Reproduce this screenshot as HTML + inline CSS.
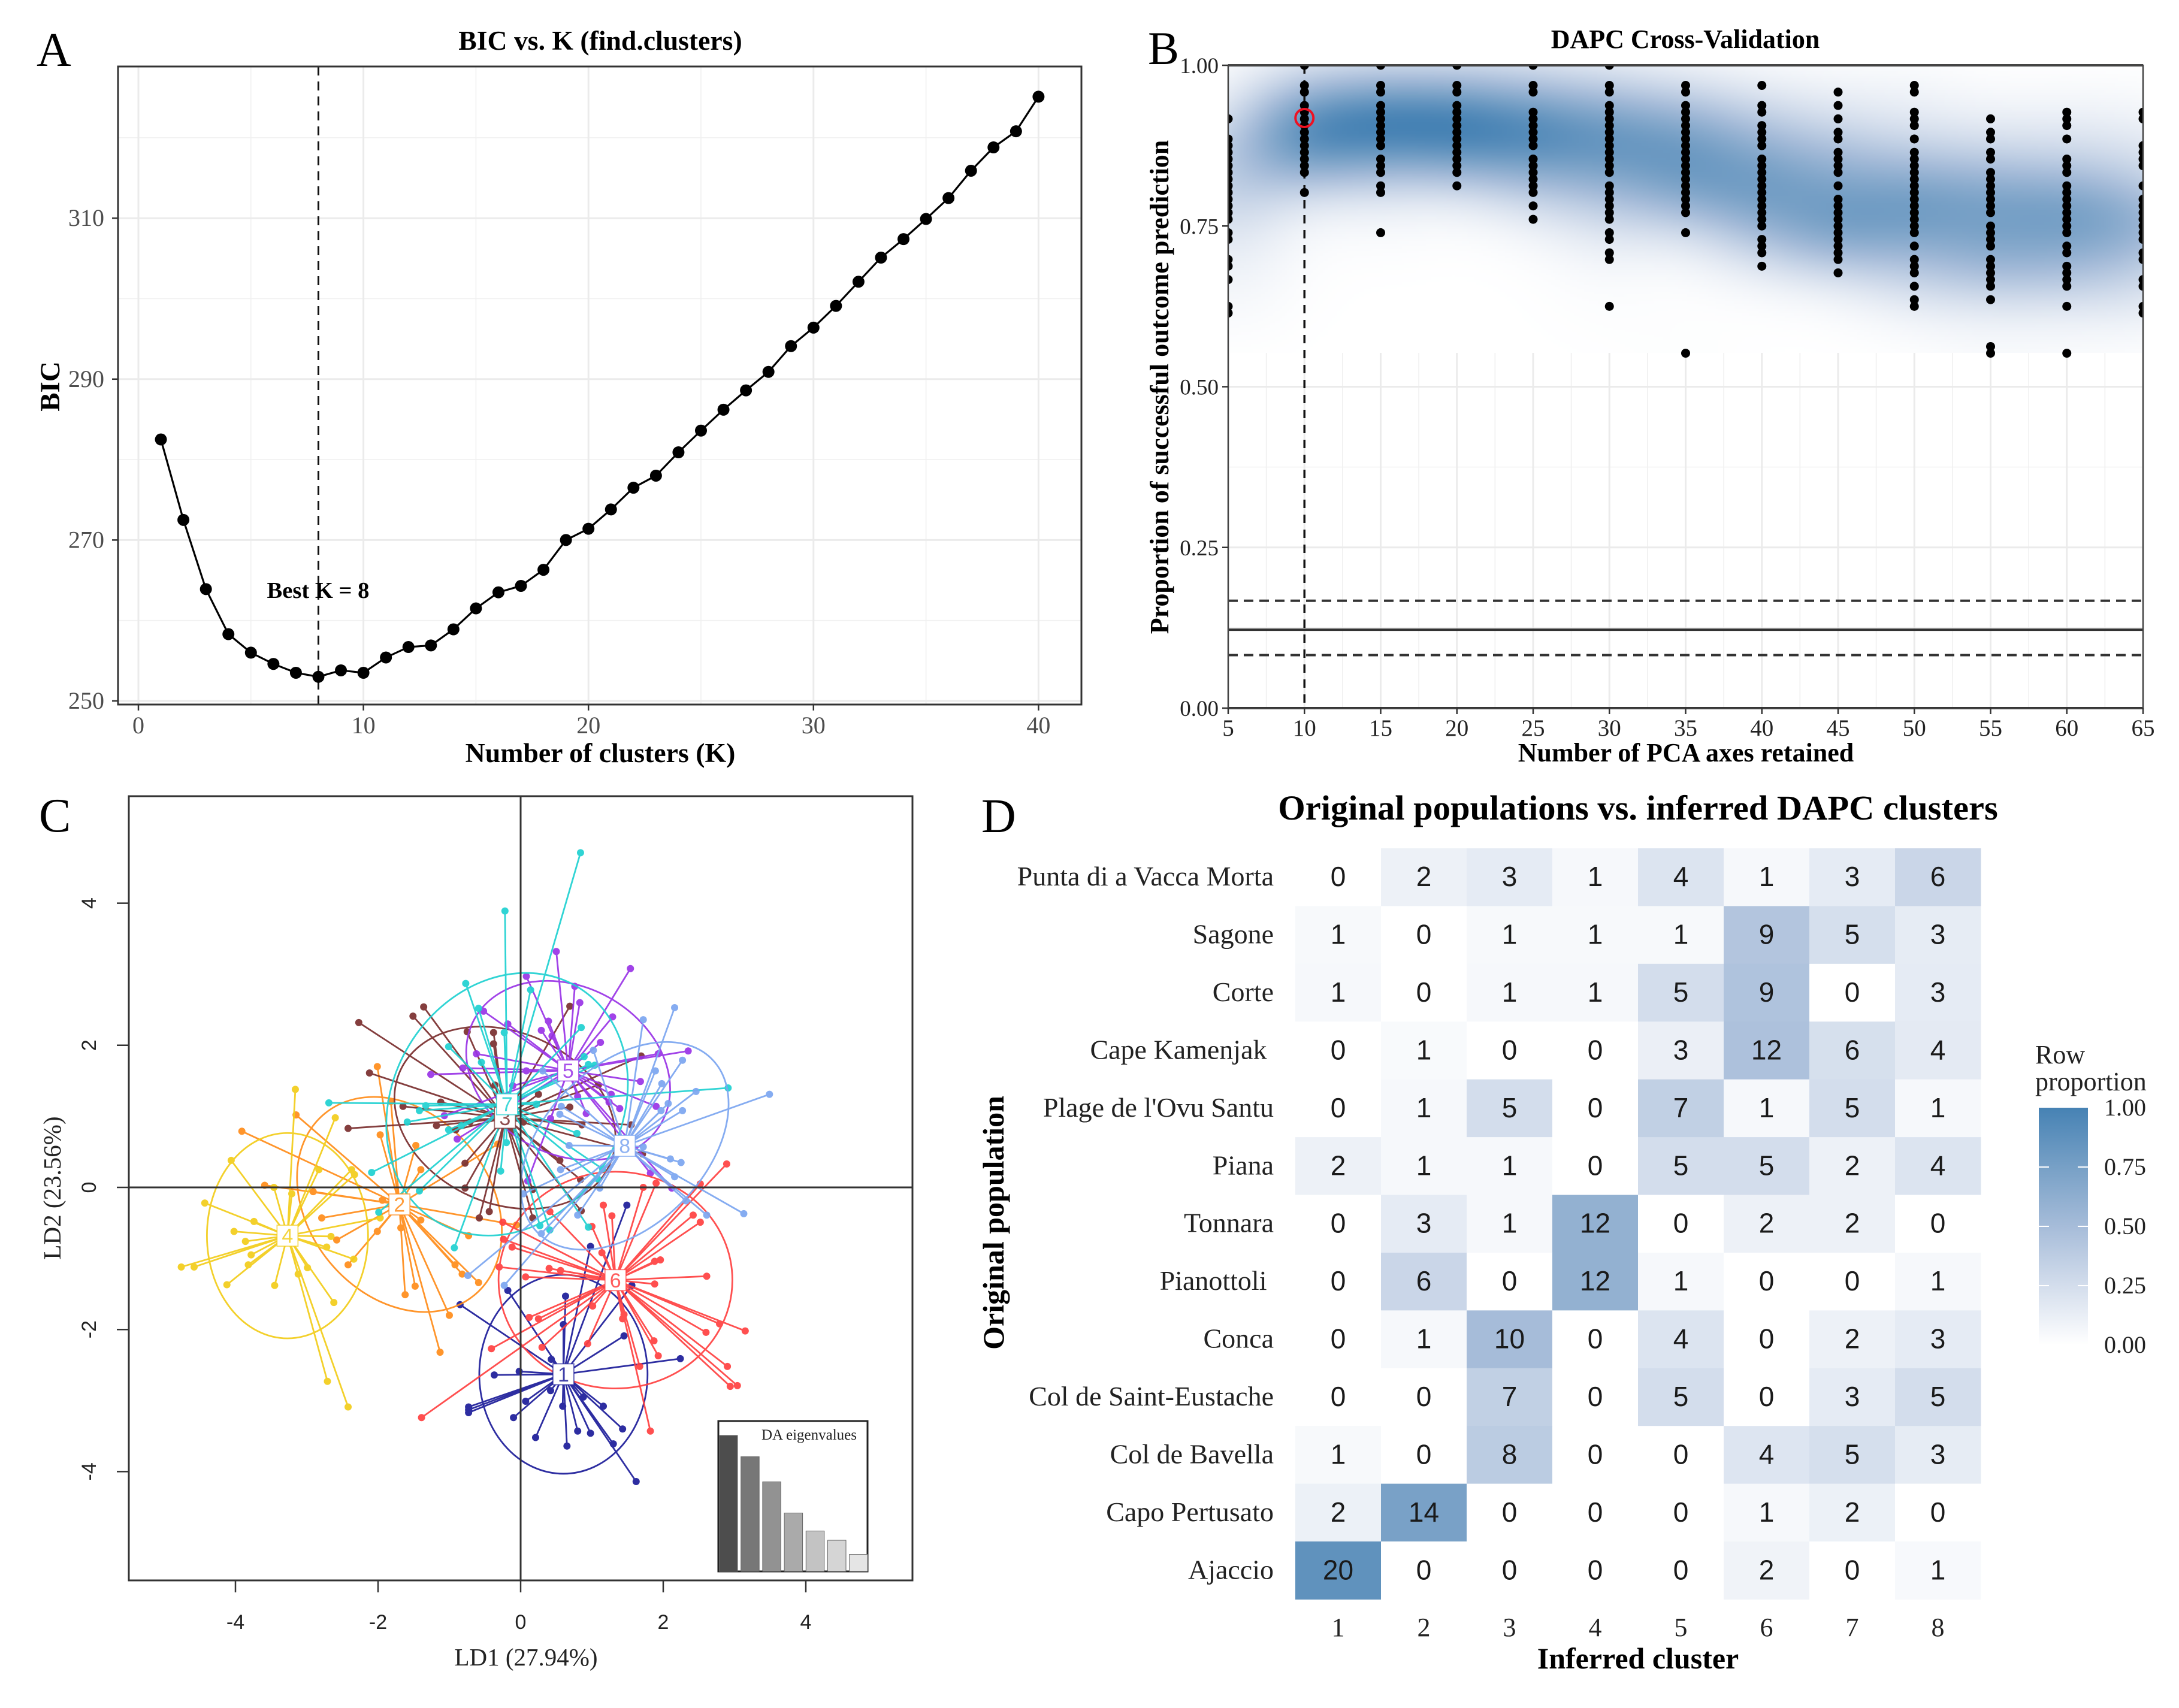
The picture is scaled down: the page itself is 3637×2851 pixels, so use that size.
<!DOCTYPE html>
<html>
<head>
<meta charset="utf-8">
<title>DAPC multi-panel figure</title>
<style>
html,body{margin:0;padding:0;background:#fff}
#stage{position:relative;width:3637px;height:2851px;overflow:hidden;background:#fff}
#stage svg{position:absolute;left:0;top:0}
#stage #density-raster{position:absolute;left:2050px;top:109px;width:1527px;height:480px}
text{font-family:"Liberation Serif",serif;white-space:pre}
.sans{font-family:"Liberation Sans",sans-serif}
.b{font-weight:bold}
</style>
</head>
<body>
<div id="stage">
<svg id="under" width="3637" height="2851"></svg>
<canvas id="density-raster" width="382" height="120"></canvas>
<svg id="main" width="3637" height="2851">
  <defs>
    <clipPath id="cvClip"><rect x="2050" y="109" width="1527" height="1073"></rect></clipPath>
    <linearGradient id="legendGrad" x1="0" y1="1" x2="0" y2="0">
      <stop offset="0" stop-color="#ffffff"></stop>
      <stop offset="0.25" stop-color="#d3ddec"></stop>
      <stop offset="0.5" stop-color="#a6bcd9"></stop>
      <stop offset="0.75" stop-color="#77a0c6"></stop>
      <stop offset="1" stop-color="#4682b4"></stop>
    </linearGradient>
  </defs>

  <text x="61" y="110" font-size="80">A</text>
  <text x="1916" y="107" font-size="78">B</text>
  <text x="65" y="1388" font-size="80">C</text>
  <text x="1638" y="1389" font-size="80">D</text>

  <g id="panelA">
    <g id="aGrid"></g>
    <g id="aMarks"></g>
    <rect x="197" y="111" width="1608" height="1065" fill="none" stroke="#333" stroke-width="3"></rect>
    <g id="aAxes"></g>
    <text x="1002" y="83" font-size="45.7" class="b" text-anchor="middle">BIC vs. K (find.clusters)</text>
    <text x="1002" y="1272" font-size="45.8" class="b" text-anchor="middle">Number of clusters (K)</text>
    <text transform="translate(99,645) rotate(-90)" font-size="47" class="b" text-anchor="middle">BIC</text>
    <text x="531" y="998" font-size="38.6" class="b" text-anchor="middle">Best K = 8</text>
  </g>

  <g id="panelB">
    <g id="bLines"></g>
    <g id="bDots" clip-path="url(#cvClip)"></g>
    <rect x="2050" y="109" width="1527" height="1073" fill="none" stroke="#444" stroke-width="2.5"></rect>
    <g id="bAxes"></g>
    <text x="2813" y="80" font-size="44" class="b" text-anchor="middle">DAPC Cross-Validation</text>
    <text x="2814" y="1271" font-size="44" class="b" text-anchor="middle">Number of PCA axes retained</text>
    <text transform="translate(1950,646) rotate(-90)" font-size="44" class="b" text-anchor="middle">Proportion of successful outcome prediction</text>
  </g>

  <g id="panelC">
    <g id="cMarks"></g>
    <rect x="215" y="1329" width="1308" height="1309" fill="none" stroke="#333" stroke-width="3"></rect>
    <g id="cAxes"></g>
    <g id="cInset"></g>
    <text x="878" y="2780" font-size="41" fill="#222" text-anchor="middle">LD1 (27.94%)</text>
    <text transform="translate(101,1983) rotate(-90)" font-size="41" fill="#222" text-anchor="middle">LD2 (23.56%)</text>
  </g>

  <g id="panelD">
    <g id="dCells"></g>
    <text x="2734" y="1368" font-size="58.5" class="b" text-anchor="middle">Original populations vs. inferred DAPC clusters</text>
    <text x="2734" y="2785" font-size="50" class="b" text-anchor="middle">Inferred cluster</text>
    <text transform="translate(1675,2041) rotate(-90)" font-size="50" class="b" text-anchor="middle">Original population</text>
    <g>
      <text x="3397" y="1775" font-size="44" fill="#222">Row</text>
      <text x="3397" y="1820" font-size="44" fill="#222">proportion</text>
      <rect x="3403" y="1849" width="82" height="396" fill="url(#legendGrad)"></rect>
      <g id="dLegend"></g>
    </g>
  </g>
</svg>
</div>
<script>
/* ---------- Panel A data ---------- */
const bicValues = [282.5,272.5,263.9,258.3,256,254.6,253.5,253,253.8,253.5,255.4,256.7,256.9,258.9,261.5,263.5,264.3,266.3,270,271.4,273.8,276.5,278,280.9,283.6,286.2,288.6,290.9,294.1,296.4,299.1,302.1,305.1,307.4,309.9,312.5,315.9,318.8,320.8,325.1];
const bicBestK = 8;
const bicXMajor = [0,10,20,30,40];
const bicXMinor = [5,15,25,35];
const bicYMajor = [250,270,290,310];
const bicYMinor = [260,280,300,320];

/* ---------- Panel B data: misclassified count out of cvDenominator, per replicate ---------- */
const cvDenominator = 96;
const cvAxes = [5,10,15,20,25,30,35,40,45,50,55,60,65];
const cvMissed05 = [8,11,12,13,14,15,16,17,18,19,20,21,22,23,25,26,29,30,32,36,37];
const cvMissed10 = [0,3,4,6,7,8,9,10,11,12,13,14,15,16,19];
const cvMissed15 = [0,3,4,6,7,8,9,10,11,12,14,15,16,18,19,25];
const cvMissed20 = [0,3,4,6,7,8,9,10,11,12,13,14,15,16,18];
const cvMissed25 = [0,3,4,7,8,9,10,11,12,14,15,16,17,18,19,21,23];
const cvMissed30 = [0,3,4,6,7,8,9,10,11,12,13,14,15,16,18,19,20,21,22,23,25,26,28,29,36];
const cvMissed35 = [3,4,6,7,8,9,10,11,12,13,14,15,16,17,18,19,20,21,22,25,43];
const cvMissed40 = [3,6,7,9,10,11,12,14,15,16,17,18,19,20,21,22,23,24,26,27,28,30];
const cvMissed45 = [4,6,8,10,11,13,14,15,16,18,20,21,22,23,24,25,26,27,28,29,31];
const cvMissed50 = [3,4,7,8,9,11,13,14,15,16,17,18,19,20,21,22,23,24,25,27,29,30,31,33,35,36];
const cvMissed55 = [8,10,11,13,14,16,17,18,19,20,21,22,24,25,26,27,29,30,31,32,33,35,42,43];
const cvMissed60 = [7,8,9,11,14,15,16,18,19,20,21,22,23,24,25,27,28,30,31,32,33,36,43];
const cvMissed65 = [7,8,12,13,14,15,18,20,21,22,23,24,25,26,28,29,32,33,36,37];
const cvColumns = [cvMissed05,cvMissed10,cvMissed15,cvMissed20,cvMissed25,cvMissed30,cvMissed35,cvMissed40,cvMissed45,cvMissed50,cvMissed55,cvMissed60,cvMissed65];
/* Overlapping replicates are hidden in the dots, so the density ridge is read per column from the raster */
const cvRidgeCentre = [.82,.90,.915,.915,.905,.88,.85,.815,.785,.76,.75,.75,.745];
const cvRidgeSpread = [.12,.055,.05,.05,.055,.065,.07,.075,.07,.065,.07,.07,.075];
const cvColumnMass = [.55,1,1,1,1,1,1,1,1,1,1,1,.8];
const cvBestPca = 10;
const cvBestValue = 0.918;
const cvRandomMean = 0.122;
const cvRandomUpper = 0.167;
const cvRandomLower = 0.0825;
const cvXTicks = [5,10,15,20,25,30,35,40,45,50,55,60,65];
const cvXMinor = [7.5,12.5,17.5,22.5,27.5,32.5,37.5,42.5,47.5,52.5,57.5,62.5];
const cvYTicks = ["0.00","0.25","0.50","0.75","1.00"];
const cvYMinor = [0.125,0.375,0.625,0.875];
const cvDensityFloor = 0.5527;

/* ---------- Panel C data (LD1, LD2) ---------- */
const ldCluster1 = [[1.49,-.25],[.98,-.83],[-.18,-1.45],[-.85,-1.65],[.63,-1.53],[.6,-1.93],[1.56,-1.38],[1.45,-2.09],[2.24,-2.41],[-.02,-2.59],[-.37,-2.64],[.43,-2.42],[.42,-2.86],[.07,-3.01],[-.73,-3.09],[-.73,-3.13],[-.73,-3.17],[-.1,-3.24],[.59,-3.08],[.88,-2.95],[1.16,-3.08],[1.43,-3.4],[1.3,-3.61],[.98,-3.46],[.8,-3.43],[.21,-3.52],[.65,-3.64],[1.62,-4.14]];
const ldCluster2 = [[-2.01,1.7],[-1.97,.74],[-1.47,.59],[-1.4,.25],[-3.91,.79],[-3.15,1.02],[-1.82,1.21],[-3.59,.03],[-2.91,-.06],[-2.79,-.43],[-2.58,-.74],[-2.42,-1.09],[-2.01,-.62],[-1.68,-.57],[-1.4,-.46],[-.73,-.68],[-.06,-.53],[-.32,.61],[-1.94,-.18],[-1.62,-1.51],[-1.48,-1.39],[-1.13,-2.32],[-1,-1.8],[-.59,-1.34],[-.82,-1.22],[-.92,-1.09]];
const ldCluster3 = [[-2.27,2.32],[-1.51,2.41],[-1.36,2.54],[-.75,2.19],[-.38,2.18],[-.38,2.02],[-2.12,1.61],[-1.65,1.14],[-1.12,1.2],[-2.42,.83],[-1.18,.87],[-.91,.81],[-.78,.34],[-.78,-.01],[-.58,-.43],[-.44,-.34],[-.36,1.44],[-.71,.92],[.69,2.55],[.25,1.31],[.69,1.13],[.86,.88],[1.55,.88],[1.69,1.85],[1.09,1.44],[.55,.38],[.84,.11],[.17,-.03],[.17,-.43],[.85,-.33],[1.71,.47],[-.12,.8],[.04,.92]];
const ldCluster4 = [[-3.16,1.38],[-2.6,.98],[-4.06,.38],[-2.83,.25],[-2.37,.25],[-2.33,.18],[-3.46,0],[-3.21,-.09],[-4.43,-.22],[-3.74,-.48],[-4.02,-.62],[-3.86,-.76],[-1.97,-.43],[-2.66,-.69],[-2.72,-.84],[-2.34,-1.01],[-3.78,-.95],[-3.82,-1.09],[-4.76,-1.12],[-4.58,-1.12],[-4.12,-1.37],[-3.45,-1.38],[-2.99,-1.13],[-3.12,-1.22],[-2.62,-1.62],[-2.71,-2.73],[-2.42,-3.09]];
const ldCluster5 = [[.5,3.32],[.08,2.97],[.76,2.83],[.83,2.6],[1.54,3.08],[1.29,2.4],[1.12,2.04],[.39,2.34],[.29,2.21],[.44,2.13],[-.18,2.3],[-.52,2.48],[2.35,1.92],[1.93,1.88],[1.68,1.49],[1.27,1.31],[1.24,1.2],[1.39,1.11],[1.9,1.14],[.8,1.28],[.92,1.04],[.42,.97],[.08,1.64],[-.11,1.43],[1.82,.2],[2.12,-.01],[.1,.09],[-1.26,1.59],[-.81,1.68],[-.62,1.88],[-1.07,1.01],[-.89,.68]];
const ldCluster6 = [[2.89,.33],[2.52,.05],[1.9,.06],[1.72,0],[1.16,-.25],[1.28,-.4],[2.42,-.39],[2.52,-.49],[1,-.55],[.41,-.34],[-.24,-.73],[-.12,-.84],[-.25,-.49],[-.3,-1.12],[.07,-1.26],[.4,-1.14],[.56,-1.17],[1.96,-1.02],[1.88,-1.04],[2.61,-1.25],[1.88,-1.36],[1.01,-1.67],[.12,-1.83],[.25,-1.85],[-.41,-2.27],[.3,-2.25],[1.45,-1.79],[1.43,-1.85],[1.87,-2.16],[1.93,-2.37],[.94,-2.2],[1.67,-2.52],[1.82,-3.43],[2.6,-2.04],[2.79,-1.92],[3.15,-2.02],[2.9,-2.52],[2.94,-2.8],[3.04,-2.79],[-1.39,-3.24],[1.14,-.92]];
const ldCluster7 = [[.84,4.71],[-.22,3.89],[-.77,2.87],[-.59,2.52],[.14,2.78],[-1.01,1.98],[-.23,2.18],[-.55,1.76],[-2.69,1.19],[-1.33,1.15],[-1.42,1.08],[-1.59,.92],[-1.01,.81],[-.83,.87],[-2.09,.21],[-.2,.63],[-.28,.23],[-1.42,-.05],[-1.99,-.35],[-.93,-.85],[.85,2.25],[.89,1.84],[.95,1.73],[1.04,1.72],[2.91,1.4],[.22,1.17],[.79,.76],[1.15,.26],[1.08,.12],[.27,-.54],[.41,-.6],[.95,-.56]];
const ldCluster8 = [[3.49,1.31],[2.16,2.53],[1.72,2.36],[2.27,1.79],[1.02,1.93],[1.89,1.64],[1.98,1.46],[2.46,1.35],[2.07,1.18],[1.97,1.08],[2.27,1.08],[.57,1.14],[.55,1.03],[.68,.59],[.56,.25],[1.72,.57],[2.1,.4],[2.25,.35],[2.16,.15],[2.32,-.19],[2.61,-.39],[3.13,-.37],[1.11,-.01],[.04,-.09],[.8,-.39],[.29,-.65],[-.74,-1.24],[-.23,-1.38],[.31,1.64]];
const ldClusters = [ldCluster1,ldCluster2,ldCluster3,ldCluster4,ldCluster5,ldCluster6,ldCluster7,ldCluster8];
const clusterIds = ["1","2","3","4","5","6","7","8"];
const centroidLD1 = [.6,-1.7,-.22,-3.27,.667,1.33,-.19,1.46];
const centroidLD2 = [-2.63,-.24,.98,-.68,1.645,-1.305,1.17,.585];
const ellipseMajor = [1.18,1.65,1.61,1.13,1.5,1.64,1.92,1.725];
const ellipseMinor = [1.4,1.275,1.206,1.445,1.177,1.525,1.61,1.13];
const ellipseAngle = [0,-50.5,-24,0,-29,0,59,45];
const clusterColors = ["#1c1c99","#ff8c1a","#7a2e2e","#f2cc1a","#9933e6","#ff4040","#1fd1d1","#7ba5f0"];
const ldXTicks = [-4,-2,0,2,4];
const ldYTicks = [-4,-2,0,2,4];
const eigenValues = [27.94,23.56,18.4,12,8.3,6.4,3.5];
const eigenGreys = ["#4d4d4d","#777777","#929292","#aaaaaa","#c3c3c3","#d5d5d5","#e5e5e5"];

/* ---------- Panel D data ---------- */
const populations = ["Punta di a Vacca Morta","Sagone","Corte","Cape Kamenjak ","Plage de l'Ovu Santu","Piana","Tonnara","Pianottoli ","Conca","Col de Saint-Eustache","Col de Bavella","Capo Pertusato","Ajaccio"];
const inferredClusters = ["1","2","3","4","5","6","7","8"];
const countsPunta = [0,2,3,1,4,1,3,6];
const countsSagone = [1,0,1,1,1,9,5,3];
const countsCorte = [1,0,1,1,5,9,0,3];
const countsKamenjak = [0,1,0,0,3,12,6,4];
const countsOvu = [0,1,5,0,7,1,5,1];
const countsPiana = [2,1,1,0,5,5,2,4];
const countsTonnara = [0,3,1,12,0,2,2,0];
const countsPianottoli = [0,6,0,12,1,0,0,1];
const countsConca = [0,1,10,0,4,0,2,3];
const countsEustache = [0,0,7,0,5,0,3,5];
const countsBavella = [1,0,8,0,0,4,5,3];
const countsPertusato = [2,14,0,0,0,1,2,0];
const countsAjaccio = [20,0,0,0,0,2,0,1];
const countMatrix = [countsPunta,countsSagone,countsCorte,countsKamenjak,countsOvu,countsPiana,countsTonnara,countsPianottoli,countsConca,countsEustache,countsBavella,countsPertusato,countsAjaccio];
const legendTicks = ["0.00","0.25","0.50","0.75","1.00"];

/* ---------- Helpers ---------- */
const SVGNS = "http://www.w3.org/2000/svg";
function mk(tag, parent, attrs, text){
  const e = document.createElementNS(SVGNS, tag);
  for (const k in attrs) e.setAttribute(k, attrs[k]);
  if (text !== undefined) e.textContent = text;
  parent.appendChild(e);
  return e;
}
const $ = id => document.getElementById(id);
const colorStops = [[255,255,255],[211,221,236],[166,188,217],[119,160,198],[70,130,180]];
function ramp(t){
  t = Math.max(0, Math.min(1, t)) * 4;
  const i = Math.min(3, Math.floor(t)), f = t - i, a = colorStops[i], b = colorStops[i+1];
  return [a[0]+(b[0]-a[0])*f, a[1]+(b[1]-a[1])*f, a[2]+(b[2]-a[2])*f];
}
const rgb = c => "rgb(" + c.map(Math.round).join(",") + ")";

/* ---------- Axis functions ---------- */
const xA = k => 231 + 37.56 * k;
const yA = v => 1170 - 13.43 * (v - 250);
const xB = p => 2050 + 25.45 * (p - 5);
const yB = v => 1182 - 1073 * v;
const xC = v => 869 + 119 * v;
const yC = v => 1982 - 118.6 * v;
const cellW = 143, cellH = 96.42, cellX0 = 2162, cellY0 = 1416;
const xD = c => cellX0 + cellW * c;
const yD = r => cellY0 + cellH * r;

/* ---------- Panel A ---------- */
(function(){
  const g = $("aGrid"), m = $("aMarks"), ax = $("aAxes");
  bicXMinor.forEach(v => {
    const el = mk("line", g, {x1:xA(v),x2:xA(v),y1:111,y2:1176,stroke:"#f0f0f0","stroke-width":1.6});
    
    
  });
  bicYMinor.forEach(v => {
    const el = mk("line", g, {x1:197,x2:1805,y1:yA(v),y2:yA(v),stroke:"#f0f0f0","stroke-width":1.6});
    
    
  });
  bicXMajor.forEach(v => {
    const el = mk("line", g, {x1:xA(v),x2:xA(v),y1:111,y2:1176,stroke:"#ebebeb","stroke-width":3});
    
    
    const t = mk("line", ax, {x1:xA(v),x2:xA(v),y1:1176,y2:1186,stroke:"#333","stroke-width":2.5});
    
    
    const l = mk("text", ax, {x:xA(v),y:1224,"font-size":40,fill:"#4d4d4d","text-anchor":"middle"}, String(v));
    
    
  });
  bicYMajor.forEach(v => {
    const el = mk("line", g, {x1:197,x2:1805,y1:yA(v),y2:yA(v),stroke:"#ebebeb","stroke-width":3});
    
    
    const t = mk("line", ax, {x1:187,x2:197,y1:yA(v),y2:yA(v),stroke:"#333","stroke-width":2.5});
    
    
    const l = mk("text", ax, {x:174,y:yA(v)+13,"font-size":40,fill:"#4d4d4d","text-anchor":"end"}, String(v));
    
    
  });
  const vl = mk("line", m, {x1:xA(bicBestK),x2:xA(bicBestK),y1:111,y2:1176,stroke:"#111","stroke-width":3,"stroke-dasharray":"15 10"});
  
  
  const path = mk("polyline", m, {points:bicValues.map((v,i)=>xA(i+1)+","+yA(v)).join(" "),fill:"none",stroke:"#000","stroke-width":3.2});
  
  
  bicValues.forEach((v,i) => {
    const c = mk("circle", m, {cx:xA(i+1),cy:yA(v),r:10,fill:"#000"});
    
    
  });
})();

/* ---------- Panel B ---------- */
(function(){
  const u = $("under"), l = $("bLines"), d = $("bDots"), ax = $("bAxes");
  cvXMinor.forEach(p => {
    const el = mk("line", u, {x1:xB(p),x2:xB(p),y1:109,y2:1182,stroke:"#f0f0f0","stroke-width":1.6});
    
    
  });
  cvYMinor.forEach(v => {
    const el = mk("line", u, {x1:2050,x2:3577,y1:yB(v),y2:yB(v),stroke:"#f0f0f0","stroke-width":1.6});
    
    
  });
  cvXTicks.forEach(p => {
    const el = mk("line", u, {x1:xB(p),x2:xB(p),y1:109,y2:1182,stroke:"#ebebeb","stroke-width":3});
    
    
    const t = mk("line", ax, {x1:xB(p),x2:xB(p),y1:1182,y2:1192,stroke:"#333","stroke-width":2.5});
    
    
    const tx = mk("text", ax, {x:xB(p),y:1228,"font-size":39,fill:"#222","text-anchor":"middle"}, String(p));
    
    
  });
  cvYTicks.forEach(s => {
    const v = parseFloat(s);
    const el = mk("line", u, {x1:2050,x2:3577,y1:yB(v),y2:yB(v),stroke:"#ebebeb","stroke-width":3});
    
    
    const t = mk("line", ax, {x1:2040,x2:2050,y1:yB(v),y2:yB(v),stroke:"#333","stroke-width":2.5});
    
    
    const tx = mk("text", ax, {x:2034,y:yB(v)+13,"font-size":37,fill:"#222","text-anchor":"end"}, s);
    
    
  });

  /* density raster: weighted kernel density of the replicate points */
  const pts = [], weighted = [];
  cvColumns.forEach((col,i) => {
    const vals = col.map(n => 1 - n / cvDenominator);
    const raw = vals.map(v => Math.exp(-.5 * Math.pow((v - cvRidgeCentre[i]) / cvRidgeSpread[i], 2)) + .2);
    const sum = raw.reduce((a,b)=>a+b,0);
    vals.forEach((v,j) => {
      pts.push([cvAxes[i], v]);
      weighted.push([cvAxes[i], v, cvColumnMass[i] * raw[j] / sum]);
    });
  });
  const cv = $("density-raster"), ctx = cv.getContext("2d");
  const W = cv.width, H = cv.height, img = ctx.createImageData(W, H);
  const sx = 3.2, sy = 0.045, vals = new Float64Array(W * H);
  let max = 0;
  for (let j = 0; j < H; j++) {
    const vy = 1 - (1 - cvDensityFloor) * (j + .5) / H;
    for (let i = 0; i < W; i++) {
      const vx = 5 + 60 * (i + .5) / W;
      let s = 0;
      for (let k = 0; k < weighted.length; k++) {
        const a = (vx - weighted[k][0]) / sx, b = (vy - weighted[k][1]) / sy;
        s += weighted[k][2] * Math.exp(-.5 * (a * a + b * b));
      }
      vals[j * W + i] = s;
      if (s > max) max = s;
    }
  }
  for (let p = 0; p < vals.length; p++) {
    const c = ramp(vals[p] / max);
    img.data[p*4] = c[0]; img.data[p*4+1] = c[1]; img.data[p*4+2] = c[2]; img.data[p*4+3] = 255;
  }
  ctx.putImageData(img, 0, 0);

  const refs = [[cvRandomMean,null,'cv-random-mean-line'],[cvRandomUpper,"16 10",'cv-random-upper-line'],[cvRandomLower,"16 10",'cv-random-lower-line']];
  refs.forEach(r => {
    const a = {x1:2050,x2:3577,y1:yB(r[0]),y2:yB(r[0]),stroke:"#333","stroke-width":4};
    if (r[1]) a["stroke-dasharray"] = r[1];
    const el = mk("line", l, a);
    
    
  });
  const zero = mk("line", l, {x1:2050,x2:3577,y1:1182,y2:1182,stroke:"#222","stroke-width":4});
  
  
  const top = mk("line", l, {x1:2050,x2:3577,y1:109,y2:109,stroke:"#444","stroke-width":4});
  
  
  const bv = mk("line", l, {x1:xB(cvBestPca),x2:xB(cvBestPca),y1:109,y2:1182,stroke:"#111","stroke-width":3.5,"stroke-dasharray":"14 11"});
  
  
  pts.forEach(p => {
    const c = mk("circle", d, {cx:xB(p[0]),cy:yB(p[1]),r:7.5,fill:"#000"});
    
    
  });
  const best = mk("circle", d, {cx:xB(cvBestPca),cy:yB(cvBestValue),r:15,fill:"none",stroke:"#ee1122","stroke-width":4});
  
  
})();

/* ---------- Panel C ---------- */
(function(){
  const m = $("cMarks"), ax = $("cAxes"), ins = $("cInset");
  const hz = mk("line", ax, {x1:215,x2:1523,y1:yC(0),y2:yC(0),stroke:"#333","stroke-width":3});
  
  
  const vt = mk("line", ax, {x1:xC(0),x2:xC(0),y1:1329,y2:2638,stroke:"#333","stroke-width":3});
  
  
  ldXTicks.forEach(v => {
    const t = mk("line", ax, {x1:xC(v),x2:xC(v),y1:2638,y2:2658,stroke:"#333","stroke-width":2.5});
    
    
    const l = mk("text", ax, {x:xC(v),y:2719,"font-size":34,fill:"#222","text-anchor":"middle","class":"sans"}, String(v));
    
    
  });
  ldYTicks.forEach(v => {
    const t = mk("line", ax, {x1:195,x2:215,y1:yC(v),y2:yC(v),stroke:"#333","stroke-width":2.5});
    
    
    const l = mk("text", ax, {transform:"translate(160,"+yC(v)+") rotate(-90)","font-size":34,fill:"#222","text-anchor":"middle","class":"sans"}, String(v));
    
    
  });
  ldClusters.forEach((points,i) => {
    const col = clusterColors[i], cx = xC(centroidLD1[i]), cy = yC(centroidLD2[i]);
    const g = mk("g", m, {opacity:.92});
    
    
    const e = mk("ellipse", g, {cx:cx,cy:cy,rx:ellipseMajor[i]*119,ry:ellipseMinor[i]*118.6,fill:"none",stroke:col,"stroke-width":2.8,transform:"rotate("+(-ellipseAngle[i])+" "+cx+" "+cy+")"});
    
    
    points.forEach(p => {
      const s = mk("line", g, {x1:cx,y1:cy,x2:xC(p[0]),y2:yC(p[1]),stroke:col,"stroke-width":2.8});
      
      
      const d = mk("circle", g, {cx:xC(p[0]),cy:yC(p[1]),r:6,fill:col});
      
      
    });
  });
  clusterIds.forEach((id,i) => {
    const col = clusterColors[i], cx = xC(centroidLD1[i]), cy = yC(centroidLD2[i]);
    const b = mk("rect", m, {x:cx-17.5,y:cy-17.5,width:35,height:35,fill:"#fff",stroke:col,"stroke-width":1.8,"stroke-opacity":.7});
    
    
    const t = mk("text", m, {x:cx,y:cy+12,"font-size":34,fill:col,"fill-opacity":.85,"text-anchor":"middle","class":"sans"}, id);
    
    
  });
  /* inset eigenvalue bars */
  const ix = 1199, iy = 2372, iw = 249, ih = 251, barMax = 227 / eigenValues[0];
  const bg = mk("rect", ins, {x:ix,y:iy,width:iw,height:ih,fill:"#fff",stroke:"#222","stroke-width":3});
  
  
  eigenValues.forEach((v,i) => {
    const h = v * barMax;
    const r = mk("rect", ins, {x:ix+1.5+i*36.2,y:iy+ih-h,width:30.5,height:h,fill:eigenGreys[i],stroke:"#666","stroke-width":1});
    
    
  });
  const tt = mk("text", ins, {x:1271,y:2403,"font-size":25,fill:"#222"}, "DA eigenvalues");
  
  
})();

/* ---------- Panel D ---------- */
(function(){
  const g = $("dCells"), leg = $("dLegend");
  countMatrix.forEach((row,r) => {
    const total = row.reduce((a,b)=>a+b,0);
    const lab = mk("text", g, {x:2126,y:yD(r)+cellH/2+14,"font-size":46,fill:"#222","text-anchor":"end"}, populations[r]);
    
    
    row.forEach((n,c) => {
      const cell = mk("rect", g, {x:xD(c),y:yD(r),width:cellW+.5,height:cellH+.5,fill:rgb(ramp(n/total))});
      
      
      const t = mk("text", g, {x:xD(c)+cellW/2,y:yD(r)+cellH/2+15,"font-size":46,fill:"#1a1a1a","text-anchor":"middle","class":"sans"}, String(n));
      
      
    });
  });
  inferredClusters.forEach((s,c) => {
    const t = mk("text", g, {x:xD(c)+cellW/2,y:2731,"font-size":44,fill:"#222","text-anchor":"middle"}, s);
    
    
  });
  legendTicks.forEach(s => {
    const v = parseFloat(s), y = 2245 - 396 * v;
    const t = mk("text", leg, {x:3512,y:y+13,"font-size":40,fill:"#222"}, s);
    
    
    if (v > 0 && v < 1) {
      const a = mk("line", leg, {x1:3403,x2:3420,y1:y,y2:y,stroke:"#fff","stroke-width":2});
      
      
      const b = mk("line", leg, {x1:3468,x2:3485,y1:y,y2:y,stroke:"#fff","stroke-width":2});
      
      
    }
  });
})();
</script>
</body>
</html>
